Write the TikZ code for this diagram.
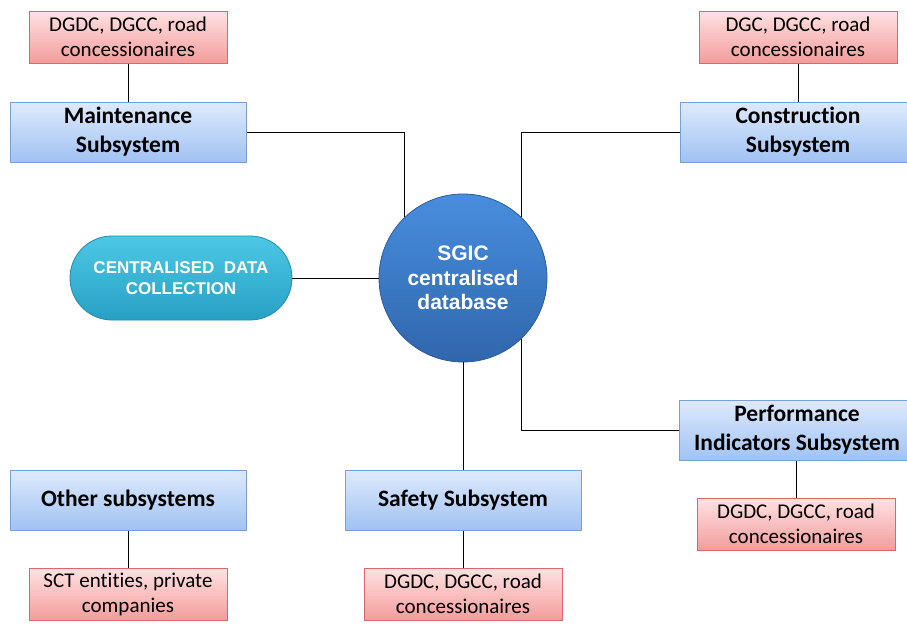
\documentclass[tikz,border=0pt]{standalone}
\usepackage{fontspec}
\setmainfont{Carlito}[Ligatures=NoCommon]
\newfontfamily\headfont{Liberation Sans}
\definecolor{subtop}{RGB}{222,234,252}
\definecolor{subbot}{RGB}{160,194,244}
\definecolor{subline}{RGB}{120,160,215}
\definecolor{orgtop}{RGB}{255,226,226}
\definecolor{orgbot}{RGB}{244,156,156}
\definecolor{orgline}{RGB}{215,105,105}
\definecolor{dbtop}{RGB}{72,142,222}
\definecolor{dbbot}{RGB}{48,102,172}
\definecolor{dbline}{RGB}{44,92,156}
\definecolor{pilltop}{RGB}{76,200,230}
\definecolor{pillbot}{RGB}{40,160,196}
\definecolor{pillline}{RGB}{34,140,172}
\tikzset{
  subsys/.style={rectangle, draw=subline, line width=1pt, top color=subtop, bottom color=subbot,
    minimum width=236, minimum height=60, inner sep=0pt, align=center,
    font=\bfseries\fontsize{23.5}{29}\selectfont},
  org/.style={rectangle, draw=orgline, line width=1pt, top color=orgtop, bottom color=orgbot,
    minimum width=198, minimum height=52, inner sep=0pt, align=center,
    font=\fontsize{21}{25}\selectfont},
  link/.style={draw=black, line width=1pt},
}
\begin{document}
\begin{tikzpicture}[x=1pt, y=-1pt]
\useasboundingbox (0,0) rectangle (907,624);
\clip (0,0) rectangle (907,624);

% central database
\node[circle, minimum size=168, inner sep=0pt, draw=dbline, line width=0.8pt,
      top color=dbtop, bottom color=dbbot, text=white, align=center,
      font=\headfont\bfseries\fontsize{21}{24.5}\selectfont] (db) at (463,278)
      {SGIC\\centralised\\database};

% data collection pill
\node[rectangle, rounded corners=42pt, minimum width=222, minimum height=84, inner sep=0pt,
      draw=pillline, line width=0.8pt, top color=pilltop, bottom color=pillbot,
      text=white, align=center, font=\headfont\bfseries\fontsize{17}{20.5}\selectfont] (pill) at (181,278)
      {CENTRALISED~ DATA\\COLLECTION};

% subsystems
\node[subsys] (maint)  at (128,132) {Maintenance\\Subsystem};
\node[subsys] (constr) at (798,132) {Construction\\Subsystem};
\node[subsys] (perf)   at (797,430) {Performance\\Indicators Subsystem};
\node[subsys] (other)  at (128,500) {Other subsystems};
\node[subsys] (safety) at (463,500) {Safety Subsystem};

% organisations
\node[org] (maintorg)  at (128,37)  {DGDC, DGCC, road\\concessionaires};
\node[org] (constrorg) at (798,37)  {DGC, DGCC, road\\concessionaires};
\node[org] (perforg)   at (796,524) {DGDC, DGCC, road\\concessionaires};
\node[org] (otherorg)  at (128,594) {SCT entities, private\\companies};
\node[org] (safetyorg) at (463,594) {DGDC, DGCC, road\\concessionaires};

% connectors
\draw[link] (maintorg) -- (maint);
\draw[link] (constrorg.south) -- (constrorg.south |- constr.north);
\draw[link] (perf.south -| perforg.north) -- (perforg.north);
\draw[link] (other) -- (otherorg);
\draw[link] (safety) -- (safetyorg);
\draw[link] (maint.east) -| (db.134);
\draw[link] (constr.west) -| (db.46);
\draw[link] (perf.west) -| (db.314);
\draw[link] (pill.east) -- (db.west);
\draw[link] (db.south) -- (safety.north);
\end{tikzpicture}
\end{document}
